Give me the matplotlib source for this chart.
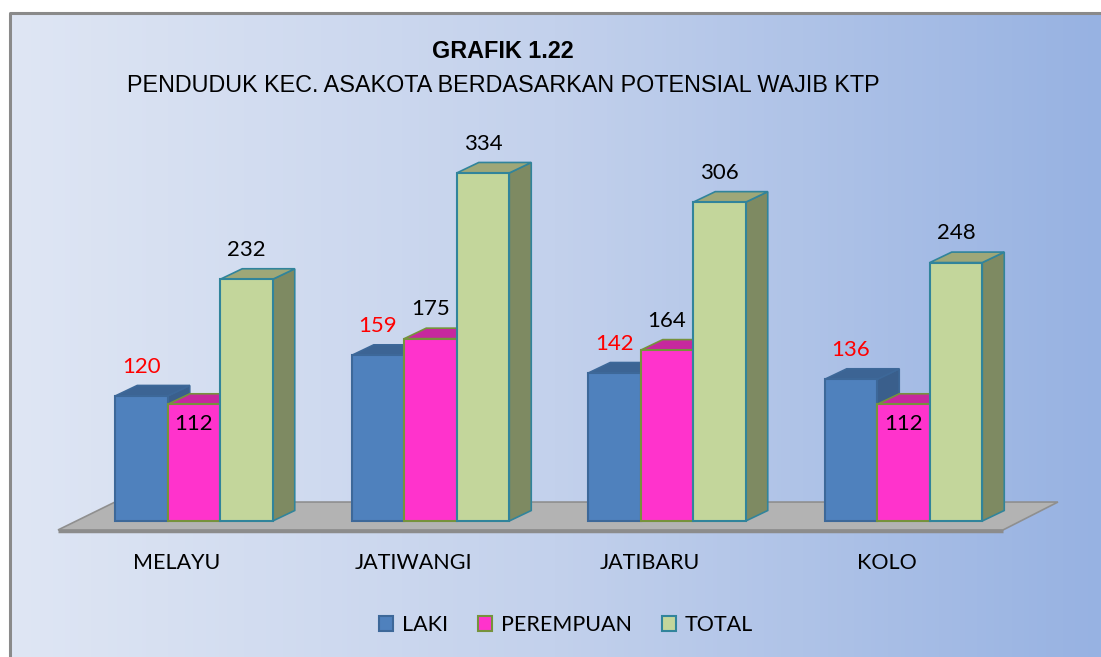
import matplotlib.pyplot as plt
import numpy as np
from matplotlib.patches import Polygon, Patch
from matplotlib.colors import LinearSegmentedColormap

# data
kecamatan = ['MELAYU', 'JATIWANGI', 'JATIBARU', 'KOLO']
laki = [120, 159, 142, 136]
perempuan = [112, 175, 164, 112]
total = [232, 334, 306, 248]
series_names = ['LAKI', 'PEREMPUAN', 'TOTAL']

# styles: front, top, side, edge
styles = [
    ('#4f81bd', '#3c6494', '#3a5f8c', '#3d6899'),
    ('#ff33cc', '#c7289e', '#c7289e', '#76923c'),
    ('#c3d69b', '#9ea778', '#7e8a62', '#31849b'),
]
label_colors = ['red', 'black', 'black']

W, H = 1101, 657
fig = plt.figure(figsize=(W / 100, H / 100), dpi=100)

# background with gradient and border
bg = fig.add_axes([0, 0, 1, 1], zorder=0)
bg.axis('off')
cmap = LinearSegmentedColormap.from_list('bg', ['#dfe6f4', '#c3d1ec', '#97b2e2'])
grad = np.linspace(0, 1, 256).reshape(1, -1)
bg.imshow(grad, cmap=cmap, aspect='auto', extent=(10, W, H, 13), zorder=0)
bg.set_xlim(0, W)
bg.set_ylim(H, 0)
bg.plot([10, 10, W], [H, 13, 13], color='#8a8a8a', lw=2.2, zorder=1)

font_title = ['Liberation Sans Narrow', 'Liberation Sans', 'DejaVu Sans']
bg.text(503, 51, 'GRAFIK 1.22', ha='center', va='center', fontsize=16.8,
        fontweight='bold', family=font_title)
bg.text(503, 86, 'PENDUDUK KEC. ASAKOTA BERDASARKAN POTENSIAL WAJIB KTP',
        ha='center', va='center', fontsize=16.8, family=font_title)

# chart axes: x in group units, y in value units
ax = fig.add_axes([0, 0, 1, 1], zorder=1)
ax.patch.set_alpha(0)
ax.axis('off')
ax.set_xlim(-194 / 236.5, (W - 194) / 236.5)
ax.set_ylim(-136 / 1.042, (H - 136) / 1.042)

bw = 52.5 / 236.5      # bar width
dx = 22 / 236.5        # depth in x
dy = 10.5 / 1.042      # depth in y

# floor
floor = Polygon([(-0.575, -8.6), (3.421, -8.6), (3.653, 18.2), (-0.334, 18.2)],
                closed=True, facecolor='#b3b3b3', edgecolor='#8f8f8f', lw=1.2, zorder=1)
ax.add_patch(floor)
ax.plot([-0.575, 3.421], [-9.5, -9.5], color='#8c8c8c', lw=2.5, zorder=1,
        solid_capstyle='butt')

numfont = ['Lato', 'DejaVu Sans']
series = [laki, perempuan, total]
z = 2
for g in range(len(kecamatan)):
    for s, vals in enumerate(series):
        v = vals[g]
        fc, tc, sc, ec = styles[s]
        x0 = g + (s - 1) * bw - bw / 2
        x1 = x0 + bw
        side = Polygon([(x1, 0), (x1 + dx, dy), (x1 + dx, v + dy), (x1, v)],
                       facecolor=sc, edgecolor=ec, lw=1.2, zorder=z)
        top = Polygon([(x0, v), (x0 + dx, v + dy), (x1 + dx, v + dy), (x1, v)],
                      facecolor=tc, edgecolor=ec, lw=1.2, zorder=z)
        front = Polygon([(x0, 0), (x1, 0), (x1, v), (x0, v)],
                        facecolor=fc, edgecolor=ec, lw=1.5, zorder=z + 0.5)
        ax.add_patch(side)
        ax.add_patch(top)
        ax.add_patch(front)
        z += 1
        # data labels
        if s == 1 and v < laki[g]:
            ty = v - 19
        else:
            ty = v + 28
        ax.text((x0 + x1) / 2, ty, str(v), ha='center', va='center',
                fontsize=16, color=label_colors[s], family=numfont, zorder=50)
    ax.text(g - 0.072, -40.5, kecamatan[g], ha='center', va='center',
            fontsize=15.5, family=numfont, zorder=50)

handles = [Patch(facecolor=st[0], edgecolor=st[3], lw=1.5, label=n)
           for st, n in zip(styles, series_names)]
leg = fig.legend(handles=handles, loc='center', bbox_to_anchor=(0.514, 1 - 625 / H),
                 ncol=3, frameon=False, prop={'family': numfont, 'size': 15.5},
                 handlelength=0.65, handleheight=0.65, handletextpad=0.4,
                 columnspacing=1.4)

fig.savefig('out.png', dpi=100)
